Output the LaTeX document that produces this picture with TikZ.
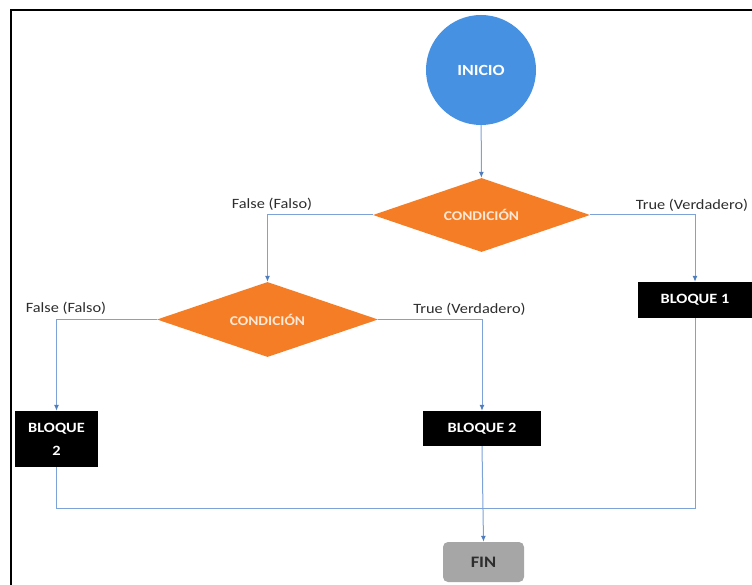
\documentclass[tikz,border=0pt]{standalone}
\usepackage{fontspec}
\setmainfont[FakeStretch=1.15]{Carlito}
\usetikzlibrary{shapes.geometric,arrows.meta}
\definecolor{startblue}{RGB}{70,145,226}
\definecolor{condorange}{RGB}{244,125,38}
\definecolor{linkblue}{RGB}{125,162,215}
\definecolor{tipblue}{RGB}{80,125,190}
\definecolor{fingray}{RGB}{166,166,166}
\definecolor{labelgray}{RGB}{45,45,45}
\definecolor{condtext}{RGB}{255,232,214}
\tikzset{
  startnode/.style={circle, fill=startblue, minimum size=110pt, inner sep=0pt,
    text=white, font=\bfseries\fontsize{15.5}{17}\selectfont},
  condnode/.style={diamond, aspect=2.93, fill=condorange, inner sep=0pt,
    text=condtext, font=\bfseries\fontsize{13.4}{15}\selectfont},
  blockbox/.style={rectangle, fill=black, inner sep=0pt, align=center,
    text=white, font=\bfseries\fontsize{14.2}{23}\selectfont},
  endnode/.style={rectangle, rounded corners=5pt, fill=fingray, inner sep=0pt,
    minimum width=81pt, minimum height=40pt,
    text=labelgray, font=\bfseries\fontsize{16}{18}\selectfont},
  link/.style={draw=linkblue, line width=1pt},
  arrowlink/.style={link, -{Latex[length=6pt,width=5pt,color=tipblue]}},
  branchlabel/.style={text=labelgray, inner sep=0pt, font=\fontsize{14.2}{16}\selectfont}
}
\begin{document}
\begin{tikzpicture}[x=1pt,y=-1pt]
  \useasboundingbox (0,0) rectangle (752,585);
  \clip (0,0) rectangle (752,585);
  % frame
  \draw[line width=2pt] (11,600) -- (11,10) -- (760,10);

  % nodes
  \node[startnode] (inicio) at (481,70) {INICIO};
  \node[condnode, minimum width=217pt, minimum height=74pt] (c1) at (481.5,215) {CONDICIÓN};
  \node[condnode, minimum width=221pt, minimum height=75pt] (c2) at (267.5,319.5) {CONDICIÓN};
  \node[blockbox, minimum width=114pt, minimum height=36pt] (b1) at (695,300) {BLOQUE 1};
  \node[blockbox, minimum width=83pt, minimum height=56pt] (b2l) at (56.5,439) {BLOQUE\\2};
  \node[blockbox, minimum width=118pt, minimum height=35pt] (b2m) at (482,428.5) {BLOQUE 2};
  \node[endnode] (fin) at (483.5,562) {FIN};
  \coordinate (join) at (482,508);

  % connectors
  \draw[arrowlink] (inicio) -- (c1);
  \draw[arrowlink] (c1.west) -| (c2.north);
  \draw[arrowlink] (c1.east) -| (b1.north);
  \draw[arrowlink] (c2.west) -| (b2l.north);
  \draw[arrowlink] (c2.east) -| (b2m.north);
  \draw[link] (b2l.south) |- (join);
  \draw[link] (b1.south) |- (join);
  \draw[arrowlink] (b2m.south) -- (fin.north);

  % branch labels
  \node[branchlabel] (f1) at (272,204) {False (Falso)};
  \node[branchlabel] (t1) at (692,205) {True (Verdadero)};
  \node[branchlabel] (f2) at (66,308) {False (Falso)};
  \node[branchlabel] (t2) at (469.5,309) {True (Verdadero)};
\end{tikzpicture}
\end{document}
